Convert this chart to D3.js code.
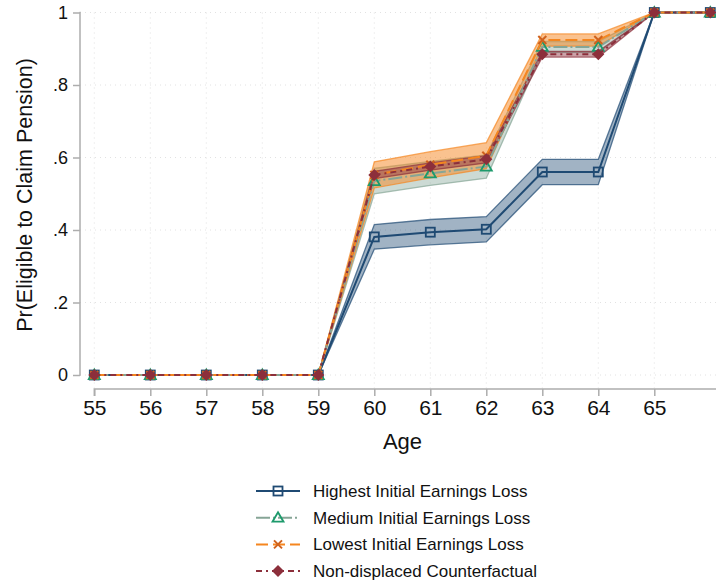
<!DOCTYPE html>
<html>
<head>
<meta charset="utf-8">
<script src="https://cdn.jsdelivr.net/npm/d3@7/dist/d3.min.js"></script>
<style>
  body { margin: 0; background: #fff; }
  svg { font-family: "Liberation Sans", Arial, sans-serif; }
</style>
</head>
<body>
<svg id="chart" width="716" height="582"></svg>
<script>
// ages on the x axis
const ages = [55, 56, 57, 58, 59, 60, 61, 62, 63, 64, 65, 66];
const xTicks = [55, 56, 57, 58, 59, 60, 61, 62, 63, 64, 65];
const yTicks = [0, 0.2, 0.4, 0.6, 0.8, 1];

// point estimates per group
const highest = [0, 0, 0, 0, 0, 0.381, 0.394, 0.402, 0.560, 0.560, 1, 1];
const medium  = [0, 0, 0, 0, 0, 0.535, 0.556, 0.575, 0.905, 0.905, 1, 1];
const lowest  = [0, 0, 0, 0, 0, 0.552, 0.580, 0.605, 0.924, 0.924, 1, 1];
const nondisp = [0, 0, 0, 0, 0, 0.552, 0.575, 0.595, 0.885, 0.885, 1, 1];

// confidence band half-widths
const highestCI = [0, 0, 0, 0, 0, 0.034, 0.035, 0.035, 0.035, 0.035, 0, 0];
const mediumCI  = [0, 0, 0, 0, 0, 0.035, 0.033, 0.032, 0.015, 0.015, 0, 0];
const lowestCI  = [0, 0, 0, 0, 0, 0.036, 0.036, 0.036, 0.017, 0.017, 0, 0];
const nondispCI = [0, 0, 0, 0, 0, 0.010, 0.010, 0.010, 0.008, 0.008, 0, 0];

const legendLabels = [
  'Highest Initial Earnings Loss',
  'Medium Initial Earnings Loss',
  'Lowest Initial Earnings Loss',
  'Non-displaced Counterfactual'
];

const series = [
  { name: legendLabels[0], values: highest, ci: highestCI, line: '#1f4a73', fill: '#1f4a73', fillOp: 0.42, marker: 'square', mColor: '#1f4a73', dash: null },
  { name: legendLabels[1], values: medium, ci: mediumCI, line: '#86a596', fill: '#8fae9f', fillOp: 0.45, marker: 'triangle', mColor: '#1d9a6c', dash: '14,3,2,3' },
  { name: legendLabels[2], values: lowest, ci: lowestCI, line: '#f5861f', fill: '#f5861f', fillOp: 0.5, marker: 'x', mColor: '#d0621d', dash: '12,5' },
  { name: legendLabels[3], values: nondisp, ci: nondispCI, line: '#8c2f3b', fill: '#8c2f3b', fillOp: 0.45, marker: 'diamond', mColor: '#8c2f3b', dash: '6,4,2,4' }
];

const svg = d3.select('#chart');
const x = d3.scaleLinear().domain([55, 66]).range([94.3, 710.3]);
const y = d3.scaleLinear().domain([0, 1]).range([375, 12.5]);

// grid
const grid = svg.append('g');
grid.selectAll('.hg').data(yTicks).join('line')
  .attr('x1', 80).attr('x2', 716)
  .attr('y1', d => y(d)).attr('y2', d => y(d))
  .attr('stroke', '#e2e2e2').attr('stroke-width', 1).attr('stroke-dasharray', '1,4');
grid.selectAll('.vg').data(xTicks).join('line')
  .attr('x1', d => x(d)).attr('x2', d => x(d))
  .attr('y1', y(1)).attr('y2', 389)
  .attr('stroke', '#e2e2e2').attr('stroke-width', 1).attr('stroke-dasharray', '1,4');

// y axis
const yAxis = svg.append('g').attr('transform', 'translate(80,0)')
  .call(d3.axisLeft(y).tickValues(yTicks).tickSize(7).tickPadding(5)
    .tickFormat(d => d === 0 ? '0' : d === 1 ? '1' : d3.format('.1f')(d).replace(/^0/, '')));
yAxis.select('.domain').attr('d', `M-0.5,${y(1)}H0V${y(0)}H-0.5`);
yAxis.selectAll('path,line').attr('stroke', '#adadad').attr('stroke-width', 1.5);
yAxis.selectAll('text').attr('font-size', 18).attr('fill', '#111')
  .attr('font-family', '"Liberation Sans", Arial, sans-serif');

// x axis
const xAxis = svg.append('g').attr('transform', 'translate(0,389)')
  .call(d3.axisBottom(x).tickValues(xTicks).tickSize(7).tickPadding(4).tickFormat(d3.format('d')));
xAxis.select('.domain').attr('d', `M${x(55)},7V0H716`);
xAxis.selectAll('path,line').attr('stroke', '#adadad').attr('stroke-width', 1.5);
xAxis.selectAll('text').attr('font-size', 21).attr('fill', '#111')
  .attr('font-family', '"Liberation Sans", Arial, sans-serif');

// titles
svg.append('text').attr('x', 402.5).attr('y', 449).attr('text-anchor', 'middle')
  .attr('font-size', 22).attr('fill', '#111').text('Age');
svg.append('text').attr('transform', 'translate(32,195) rotate(-90)').attr('text-anchor', 'middle')
  .attr('font-size', 21.5).attr('fill', '#111').text('Pr(Eligible to Claim Pension)');

// bands
const area = d3.area()
  .x(d => x(d.a))
  .y0(d => y(d.v - d.c))
  .y1(d => y(d.v + d.c));
const pts = s => ages.map((a, i) => ({ a, v: s.values[i], c: s.ci[i] }));

series.forEach(s => {
  svg.append('path').datum(pts(s)).attr('d', area)
    .attr('fill', s.fill).attr('fill-opacity', s.fillOp)
    .attr('stroke', s.line).attr('stroke-opacity', 0.7).attr('stroke-width', 1.3);
});

const line = d3.line().x(d => x(d.a)).y(d => y(d.v));

function drawMarker(g, type, color, cx, cy) {
  if (type === 'square') {
    g.append('rect').attr('x', cx - 4.5).attr('y', cy - 4.5).attr('width', 9).attr('height', 9)
      .attr('fill', 'none').attr('stroke', color).attr('stroke-width', 1.8);
  } else if (type === 'triangle') {
    g.append('path').attr('d', `M${cx},${cy - 5.5}L${cx + 5.5},${cy + 4}L${cx - 5.5},${cy + 4}Z`)
      .attr('fill', 'none').attr('stroke', color).attr('stroke-width', 1.8);
  } else if (type === 'x') {
    g.append('path').attr('d', `M${cx - 4},${cy - 4}L${cx + 4},${cy + 4}M${cx - 4},${cy + 4}L${cx + 4},${cy - 4}`)
      .attr('stroke', color).attr('stroke-width', 2);
  } else {
    g.append('path').attr('d', `M${cx},${cy - 6}L${cx + 6},${cy}L${cx},${cy + 6}L${cx - 6},${cy}Z`)
      .attr('fill', color);
  }
}

series.forEach(s => {
  const g = svg.append('g');
  g.append('path').datum(pts(s)).attr('d', line)
    .attr('fill', 'none').attr('stroke', s.line).attr('stroke-width', 2)
    .attr('stroke-dasharray', s.dash);
  pts(s).forEach(p => drawMarker(g, s.marker, s.mColor, x(p.a), y(p.v)));
});

// legend
const leg = svg.append('g');
series.forEach((s, i) => {
  const ly = 491 + i * 26.7;
  const g = leg.append('g');
  g.append('line').attr('x1', 256).attr('x2', 300).attr('y1', ly).attr('y2', ly)
    .attr('stroke', s.line).attr('stroke-width', 2).attr('stroke-dasharray', s.dash);
  drawMarker(g, s.marker, s.mColor, 278, ly);
  g.append('text').attr('x', 313).attr('y', ly + 6).attr('font-size', 17).attr('fill', '#111').text(s.name);
});
</script>
</body>
</html>
